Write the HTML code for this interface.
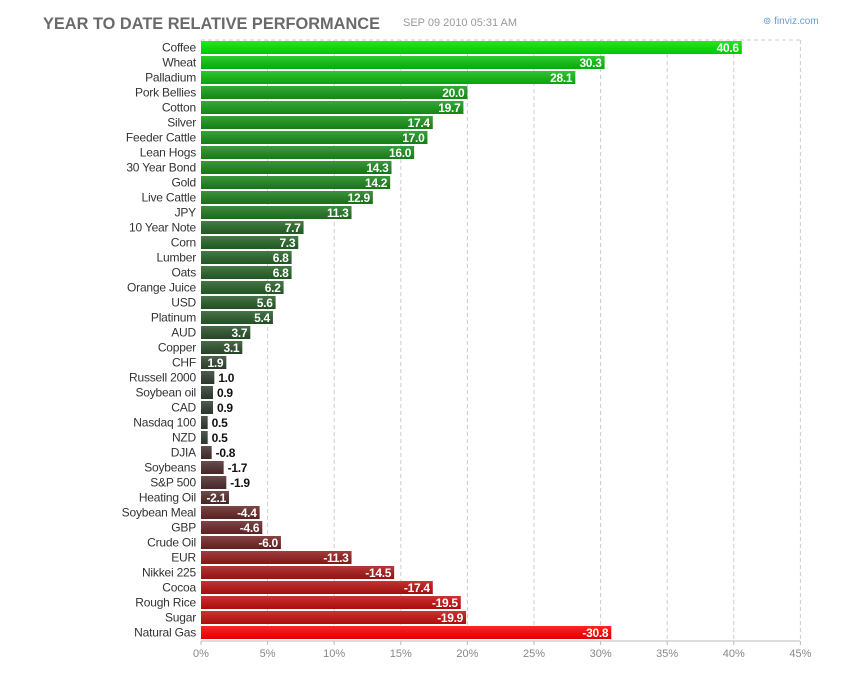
<!DOCTYPE html>
<html><head><meta charset="utf-8"><style>
body{margin:0;background:#fff;width:850px;height:670px;overflow:hidden}
svg text{font-family:"Liberation Sans",Arial,sans-serif}
</style></head><body>
<svg id="c" width="850" height="670" xmlns="http://www.w3.org/2000/svg">
<defs><linearGradient id="sh" x1="0" y1="0" x2="0" y2="1"><stop offset="0" stop-color="#fff" stop-opacity="0.15"/><stop offset="1" stop-color="#000" stop-opacity="0.12"/></linearGradient></defs>
<text x="43" y="29" font-weight="bold" font-size="17" fill="#6a6a6a" textLength="337" lengthAdjust="spacingAndGlyphs">YEAR TO DATE RELATIVE PERFORMANCE</text>
<text x="403" y="26" font-size="11" fill="#999" textLength="114" lengthAdjust="spacingAndGlyphs">SEP 09 2010 05:31 AM</text>
<text x="763" y="24" font-size="10" fill="#6a9ad0">⊚ finviz.com</text>
</svg>
<script>
var d=[["Coffee",40.6],["Wheat",30.3],["Palladium",28.1],["Pork Bellies",20.0],["Cotton",19.7],["Silver",17.4],["Feeder Cattle",17.0],["Lean Hogs",16.0],["30 Year Bond",14.3],["Gold",14.2],["Live Cattle",12.9],["JPY",11.3],["10 Year Note",7.7],["Corn",7.3],["Lumber",6.8],["Oats",6.8],["Orange Juice",6.2],["USD",5.6],["Platinum",5.4],["AUD",3.7],["Copper",3.1],["CHF",1.9],["Russell 2000",1.0],["Soybean oil",0.9],["CAD",0.9],["Nasdaq 100",0.5],["NZD",0.5],["DJIA",-0.8],["Soybeans",-1.7],["S&P 500",-1.9],["Heating Oil",-2.1],["Soybean Meal",-4.4],["GBP",-4.6],["Crude Oil",-6.0],["EUR",-11.3],["Nikkei 225",-14.5],["Cocoa",-17.4],["Rough Rice",-19.5],["Sugar",-19.9],["Natural Gas",-30.8]];
var s=document.getElementById('c'),h='';
var X0=201,K=13.32;
for(var i=1;i<=9;i++){var x=X0+i*5*K;h+='<line x1="'+x+'" y1="40" x2="'+x+'" y2="641" stroke="#ccc" stroke-dasharray="4,3"/>';}
h+='<line x1="201" y1="40" x2="800" y2="40" stroke="#ccc" stroke-dasharray="4,3"/>';
h+='<line x1="201" y1="641" x2="800" y2="641" stroke="#bbb"/>';
for(var i=0;i<=9;i++){var x=X0+i*5*K;h+='<line x1="'+x+'" y1="641" x2="'+x+'" y2="645" stroke="#bbb"/><text x="'+x+'" y="657" font-size="11" fill="#888" text-anchor="middle">'+(i*5)+'%</text>';}
function mix(a,b,t){return 'rgb('+a.map(function(v,k){return Math.round(v+(b[k]-v)*t)}).join(',')+')';}
d.forEach(function(r,i){
 var v=r[1],y=41+i*15,w=Math.abs(v)*K,c;
 if(v>=0){c=mix([52,52,52],[0,228,0],Math.pow(v/40.6,0.75));}
 else{c=mix([60,50,50],[255,0,0],Math.pow(-v/30.8,0.8));}
 h+='<text x="196" y="'+(y+10.5)+'" font-size="12" fill="#333" text-anchor="end" style="letter-spacing:-0.2px">'+r[0].replace('&','&amp;')+'</text>';
 h+='<rect x="201" y="'+y+'" width="'+w+'" height="13" fill="'+c+'"/><rect x="201" y="'+y+'" width="'+w+'" height="13" fill="url(#sh)"/>';
 var t=v.toFixed(1);
 var inside=v>=0?w>=25:w>=26;
 if(inside)h+='<text x="'+(201+w-3)+'" y="'+(y+11)+'" font-size="12" font-weight="bold" fill="#fff" text-anchor="end" style="letter-spacing:-0.3px">'+t+'</text>';
 else h+='<text x="'+(201+w+4)+'" y="'+(y+11)+'" font-size="12" font-weight="bold" fill="#111" style="letter-spacing:-0.3px">'+t+'</text>';
});
s.insertAdjacentHTML('beforeend',h);
</script>
</body></html>
